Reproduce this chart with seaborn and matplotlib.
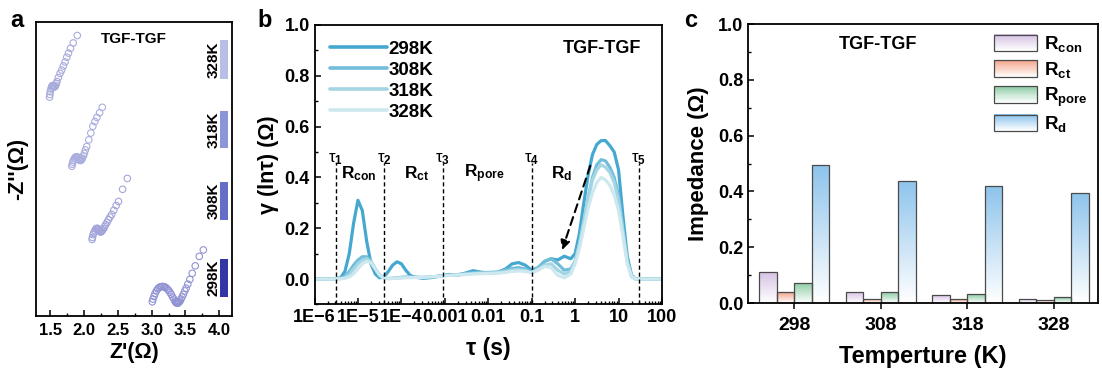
import numpy as np
import pandas as pd
import matplotlib
matplotlib.use("Agg")
import matplotlib.pyplot as plt
import matplotlib.colors as mcolors
import seaborn as sns
from matplotlib.patches import Rectangle
from matplotlib.legend_handler import HandlerBase
from matplotlib.lines import Line2D
from matplotlib.ticker import MultipleLocator, LogLocator, NullFormatter

# ---------------- data: panel a (Nyquist, stacked) ----------------
temps = ["298K", "308K", "318K", "328K"]
z_re_298 = [3.01, 3.02, 3.035, 3.05, 3.07, 3.09, 3.11, 3.13, 3.15, 3.17, 3.19, 3.21, 3.23, 3.25,
            3.27, 3.29, 3.31, 3.33, 3.345, 3.355, 3.365, 3.375, 3.385, 3.395, 3.405, 3.42, 3.435,
            3.45, 3.47, 3.49, 3.51, 3.535, 3.565, 3.60, 3.645, 3.705, 3.765]
z_im_298 = [0.21, 0.25, 0.29, 0.33, 0.37, 0.40, 0.42, 0.43, 0.435, 0.435, 0.43, 0.42, 0.40, 0.38,
            0.35, 0.32, 0.28, 0.25, 0.22, 0.205, 0.195, 0.19, 0.19, 0.195, 0.205, 0.22, 0.25,
            0.28, 0.32, 0.37, 0.41, 0.47, 0.54, 0.63, 0.74, 0.88, 0.975]
z_re_308 = [2.12, 2.125, 2.135, 2.145, 2.16, 2.175, 2.19, 2.205, 2.215, 2.225, 2.235, 2.245, 2.255,
            2.265, 2.275, 2.29, 2.305, 2.32, 2.34, 2.36, 2.385, 2.41, 2.44, 2.475, 2.51, 2.57, 2.64]
z_im_308 = [1.13, 1.16, 1.20, 1.23, 1.26, 1.285, 1.295, 1.29, 1.275, 1.26, 1.245, 1.24, 1.245,
            1.255, 1.27, 1.29, 1.32, 1.35, 1.38, 1.42, 1.46, 1.50, 1.56, 1.63, 1.69, 1.87, 2.03]
z_re_318 = [1.82, 1.825, 1.835, 1.845, 1.86, 1.875, 1.89, 1.905, 1.915, 1.925, 1.935, 1.945, 1.955,
            1.965, 1.975, 1.99, 2.005, 2.02, 2.04, 2.07, 2.10, 2.13, 2.16, 2.19, 2.23, 2.27]
z_im_318 = [2.21, 2.24, 2.27, 2.30, 2.33, 2.345, 2.35, 2.345, 2.33, 2.315, 2.30, 2.295, 2.30,
            2.31, 2.33, 2.36, 2.40, 2.45, 2.50, 2.60, 2.70, 2.80, 2.87, 2.93, 3.00, 3.08]
z_re_328 = [1.49, 1.495, 1.50, 1.51, 1.52, 1.53, 1.54, 1.55, 1.56, 1.57, 1.58, 1.59, 1.60, 1.62,
            1.645, 1.67, 1.695, 1.72, 1.745, 1.77, 1.80, 1.84, 1.90]
z_im_328 = [3.23, 3.27, 3.31, 3.35, 3.38, 3.40, 3.40, 3.39, 3.38, 3.385, 3.40, 3.43, 3.46, 3.52,
            3.58, 3.63, 3.69, 3.75, 3.82, 3.88, 3.95, 4.03, 4.14]
key_bottom = [0.285, 1.42, 2.48, 3.50]
key_top = [0.846, 1.98, 3.03, 4.07]
za_xticks = [1.5, 2.0, 2.5, 3.0, 3.5, 4.0]

# ---------------- data: panel b (DRT) ----------------
log_tau = [-6.0, -5.6, -5.4, -5.3, -5.2, -5.1, -5.0, -4.9, -4.8, -4.7, -4.6, -4.5, -4.4, -4.3, -4.2,
           -4.1, -4.0, -3.9, -3.8, -3.7, -3.5, -3.3, -3.1, -2.9, -2.7, -2.5, -2.35, -2.2, -2.0,
           -1.8, -1.6, -1.45, -1.3, -1.15, -1.0, -0.85, -0.7, -0.55, -0.4, -0.25, -0.1, 0.0, 0.1,
           0.2, 0.3, 0.4, 0.5, 0.6, 0.7, 0.8, 0.9, 1.0, 1.1, 1.2, 1.3, 1.4, 2.0]
g298 = [0, 0, 0.005, 0.03, 0.10, 0.22, 0.31, 0.27, 0.15, 0.06, 0.02, 0.005, 0.01, 0.03, 0.055,
        0.068, 0.06, 0.035, 0.015, 0.008, 0.003, 0.006, 0.012, 0.018, 0.015, 0.025, 0.033, 0.028,
        0.022, 0.025, 0.04, 0.06, 0.065, 0.055, 0.035, 0.045, 0.07, 0.08, 0.075, 0.09, 0.08, 0.10,
        0.18, 0.30, 0.41, 0.49, 0.53, 0.545, 0.545, 0.525, 0.50, 0.43, 0.25, 0.09, 0.015, 0, 0]
g308 = [0, 0, 0.003, 0.01, 0.03, 0.055, 0.075, 0.088, 0.088, 0.07, 0.04, 0.015, 0.004, 0.002, 0.003,
        0.005, 0.007, 0.008, 0.008, 0.007, 0.006, 0.008, 0.012, 0.016, 0.018, 0.022, 0.025, 0.026,
        0.026, 0.028, 0.035, 0.042, 0.045, 0.04, 0.028, 0.045, 0.07, 0.08, 0.06, 0.035, 0.04, 0.07,
        0.13, 0.22, 0.32, 0.40, 0.45, 0.47, 0.465, 0.44, 0.40, 0.33, 0.20, 0.075, 0.01, 0, 0]
g318 = [0, 0, 0.002, 0.006, 0.018, 0.04, 0.06, 0.075, 0.08, 0.068, 0.04, 0.015, 0.004, 0.002, 0.003,
        0.004, 0.006, 0.007, 0.007, 0.007, 0.007, 0.009, 0.012, 0.015, 0.017, 0.02, 0.022, 0.023,
        0.024, 0.026, 0.03, 0.035, 0.037, 0.034, 0.026, 0.04, 0.055, 0.06, 0.035, 0.02, 0.03, 0.07,
        0.14, 0.23, 0.32, 0.39, 0.43, 0.45, 0.44, 0.42, 0.38, 0.31, 0.19, 0.07, 0.01, 0, 0]
g328 = [0, 0, 0.001, 0.003, 0.008, 0.02, 0.04, 0.06, 0.07, 0.065, 0.04, 0.015, 0.004, 0.002, 0.002,
        0.003, 0.004, 0.005, 0.006, 0.006, 0.007, 0.009, 0.011, 0.014, 0.016, 0.018, 0.02, 0.021,
        0.022, 0.023, 0.026, 0.03, 0.032, 0.03, 0.024, 0.035, 0.05, 0.045, 0.015, 0.005, 0.02, 0.06,
        0.12, 0.20, 0.28, 0.34, 0.38, 0.40, 0.39, 0.37, 0.33, 0.27, 0.17, 0.06, 0.01, 0, 0]
tau_bounds = [3.1e-6, 4.0e-5, 9.0e-4, 0.1, 29.0]
tau_bound_labels = ["τ$_1$", "τ$_2$", "τ$_3$", "τ$_4$", "τ$_5$"]
region_labels = [r"$\mathbf{R_{con}}$", r"$\mathbf{R_{ct}}$", r"$\mathbf{R_{pore}}$", r"$\mathbf{R_{d}}$"]
region_pos = [1.07e-5, 2.2e-4, 8.3e-3, 0.48]
tau_tick_labels = ["1E\u22126", "1E\u22125", "1E\u22124", "0.001", "0.01", "0.1", "1", "10", "100"]

# ---------------- data: panel c (bars) ----------------
bar_temps = ["298", "308", "318", "328"]
components = ["R_con", "R_ct", "R_pore", "R_d"]
comp_labels = [r"$\mathbf{R_{con}}$", r"$\mathbf{R_{ct}}$", r"$\mathbf{R_{pore}}$", r"$\mathbf{R_{d}}$"]
r_con = [0.110, 0.038, 0.027, 0.015]
r_ct = [0.038, 0.015, 0.013, 0.012]
r_pore = [0.072, 0.038, 0.031, 0.021]
r_d = [0.493, 0.438, 0.418, 0.393]

# ---------------- style ----------------
sns.set_theme(style="ticks")
plt.rcParams["font.family"] = ["Liberation Sans", "DejaVu Sans"]
plt.rcParams["font.weight"] = "bold"
plt.rcParams["axes.labelweight"] = "bold"
plt.rcParams["mathtext.fontset"] = "custom"
plt.rcParams["mathtext.rm"] = "Liberation Sans"
plt.rcParams["mathtext.bf"] = "Liberation Sans:bold"
plt.rcParams["mathtext.it"] = "Liberation Sans:italic"
plt.rcParams["axes.linewidth"] = 1.3
plt.rcParams["axes.edgecolor"] = "black"
for k in ["text.color", "axes.labelcolor", "xtick.color", "ytick.color"]:
    plt.rcParams[k] = "black"

TICK_FS = 13
LABEL_FS = 15.5

fig = plt.figure(figsize=(11.02, 3.76), dpi=100)
axa = fig.add_axes([0.0327, 0.1596, 0.1779, 0.782])
axb = fig.add_axes([0.2854, 0.1902, 0.3153, 0.7434])
axc = fig.add_axes([0.6788, 0.1941, 0.3176, 0.742])

# ================= panel a =================
key_colors = ["#3237A5", "#646EC8", "#8C96D7", "#B9BEE6"]
pt_colors = ["#9193D4", "#A3A5DA", "#ABADDD", "#A9ABDC"]
series_a = [(z_re_298, z_im_298), (z_re_308, z_im_308), (z_re_318, z_im_318), (z_re_328, z_im_328)]
for (xr, yi), t, pc in zip(series_a, temps, pt_colors):
    df = pd.DataFrame({"Zre": xr, "Zim": yi})
    n0 = len(axa.collections)
    sns.scatterplot(data=df, x="Zre", y="Zim", ax=axa, marker="o", s=22, legend=False)
    coll = axa.collections[n0]
    coll.set_facecolor("none")
    coll.set_edgecolor(pc)
    coll.set_linewidth(0.8)

for b, tp, c, t in zip(key_bottom, key_top, key_colors, temps):
    axa.bar([4.07], [tp - b], bottom=[b], width=0.115, color=c, edgecolor="none")
    axa.text(3.915, (b + tp) / 2, t, rotation=90, ha="center", va="center",
             fontsize=11, fontweight="bold")
axa.set_xlim(1.29, 4.19)
axa.set_ylim(0, 4.34)
axa.set_xticks(za_xticks)
axa.set_xticklabels([f"{v:.1f}" for v in za_xticks], fontsize=12, fontweight="bold")
axa.xaxis.set_minor_locator(MultipleLocator(0.25))
axa.set_yticks([])
axa.tick_params(axis="x", which="major", direction="in", length=4, width=1.1, pad=5)
axa.tick_params(axis="x", which="minor", direction="in", length=2.5, width=1.0)
axa.set_xlabel("Z'(Ω)", fontsize=LABEL_FS, fontweight="bold", labelpad=3)
axa.set_ylabel("-Z''(Ω)", fontsize=LABEL_FS, fontweight="bold", labelpad=6)
axa.text(0.5, 0.965, "TGF-TGF", transform=axa.transAxes, ha="center", va="top",
         fontsize=11, fontweight="bold")

# ================= panel b =================
drt_colors = ["#45A8D0", "#72BEDA", "#A3D5E3", "#CDE8EF"]
frames = []
for t, g in zip(temps, [g298, g308, g318, g328]):
    frames.append(pd.DataFrame({"tau": 10.0 ** np.array(log_tau), "gamma": g, "T": t}))
drt = pd.concat(frames, ignore_index=True)
sns.lineplot(data=drt, x="tau", y="gamma", hue="T", hue_order=temps,
             palette=dict(zip(temps, drt_colors)), linewidth=2.3, ax=axb, legend=False,
             estimator=None, sort=True)
axb.set_xscale("log")
axb.set_xlim(1e-6, 100)
axb.set_ylim(-0.1, 1.0)
axb.set_xticks(10.0 ** np.arange(-6, 3))
axb.set_xticklabels(tau_tick_labels, fontsize=TICK_FS, fontweight="bold")
axb.xaxis.set_minor_locator(LogLocator(base=10, subs=np.arange(2, 10), numticks=20))
axb.xaxis.set_minor_formatter(NullFormatter())
axb.set_yticks([0.0, 0.2, 0.4, 0.6, 0.8, 1.0])
axb.set_yticklabels(["0.0", "0.2", "0.4", "0.6", "0.8", "1.0"], fontsize=TICK_FS, fontweight="bold")
axb.yaxis.set_minor_locator(MultipleLocator(0.1))
axb.tick_params(which="major", direction="in", length=4, width=1.1)
axb.tick_params(which="minor", direction="in", length=2.5, width=1.0)
axb.set_xlabel("τ (s)", fontsize=LABEL_FS + 1, fontweight="bold", labelpad=8)
axb.set_ylabel("γ (lnτ) (Ω)", fontsize=LABEL_FS, fontweight="bold", labelpad=4)

for xb, lab in zip(tau_bounds, tau_bound_labels):
    axb.plot([xb, xb], [-0.1, 0.455], ls=(0, (3, 2)), color="black", lw=1.0)
    axb.text(xb, 0.44, lab, ha="center", va="bottom", fontsize=12, fontweight="normal")
for xp, lab in zip(region_pos, region_labels):
    axb.text(xp, 0.415, lab, ha="center", va="center", fontsize=12.5)
axb.annotate("", xy=(10 ** -0.30, 0.114), xytext=(10 ** 0.35, 0.446),
             arrowprops=dict(arrowstyle="-|>", linestyle=(0, (4, 2.5)), lw=1.5, color="black",
                             mutation_scale=14, shrinkA=0, shrinkB=0))
handles_b = [Line2D([0], [0], color=c, lw=2.6) for c in drt_colors]
axb.legend(handles_b, temps, loc="upper left", bbox_to_anchor=(0.0, 1.0), frameon=False,
           handlelength=3.0, handletextpad=0.1, labelspacing=0.2, borderaxespad=0.45,
           prop={"size": 13.5, "weight": "bold"})
axb.text(0.94, 0.915, "TGF-TGF", transform=axb.transAxes, ha="right", va="center",
         fontsize=13, fontweight="bold")

# ================= panel c =================
comp_colors = ["#D8C3E6", "#F4A489", "#8BCBA3", "#8EC4EC"]
bars = pd.DataFrame({
    "T": np.repeat(bar_temps, 4),
    "comp": components * 4,
    "val": np.ravel(np.column_stack([r_con, r_ct, r_pore, r_d])),
})
sns.barplot(data=bars, x="T", y="val", hue="comp", hue_order=components, order=bar_temps,
            palette=dict(zip(components, comp_colors)), width=0.81, gap=0, ax=axc,
            legend=False, edgecolor="#4a4a4a", linewidth=0.9, saturation=1)


def grad_array(color, n=64):
    rgb = np.array(mcolors.to_rgb(color))
    f = np.linspace(0.0, 1.0, n)[:, None]
    arr = (1 - f) * np.ones(3) + f * rgb
    return arr[:, None, :]


for cont, col in zip(axc.containers, comp_colors):
    for p in cont.patches:
        x0, y0 = p.get_x(), p.get_y()
        w, h = p.get_width(), p.get_height()
        im = axc.imshow(grad_array(col), extent=[x0, x0 + w, y0, y0 + h], origin="lower",
                        aspect="auto", zorder=p.get_zorder() - 0.1, interpolation="bilinear")
        im.set_clip_path(p)
        p.set_facecolor("none")

axc.set_xlim(-0.535, 3.51)
axc.set_ylim(0, 1.0)
axc.set_aspect("auto")
axc.set_yticks([0.0, 0.2, 0.4, 0.6, 0.8, 1.0])
axc.set_yticklabels(["0.0", "0.2", "0.4", "0.6", "0.8", "1.0"], fontsize=TICK_FS, fontweight="bold")
axc.yaxis.set_minor_locator(MultipleLocator(0.1))
axc.set_xticks(range(4))
axc.set_xticklabels(bar_temps, fontsize=TICK_FS + 1, fontweight="bold")
axc.tick_params(axis="y", which="major", direction="in", length=4, width=1.1)
axc.tick_params(axis="y", which="minor", direction="in", length=2.5, width=1.0)
axc.tick_params(axis="x", which="major", direction="out", length=4, width=1.1, pad=6)
axc.set_xlabel("Temperture (K)", fontsize=LABEL_FS + 1.5, fontweight="bold", labelpad=8)
axc.set_ylabel("Impedance (Ω)", fontsize=LABEL_FS + 0.5, fontweight="bold", labelpad=6)
axc.text(0.37, 0.925, "TGF-TGF", transform=axc.transAxes, ha="center", va="center",
         fontsize=13, fontweight="bold")
for s in axc.spines.values():
    s.set_visible(True)


class GradHandler(HandlerBase):
    def __init__(self, color):
        super().__init__()
        self.color = color

    def create_artists(self, legend, orig_handle, xdescent, ydescent, width, height,
                       fontsize, trans):
        arts = []
        n = 16
        rgb = np.array(mcolors.to_rgb(self.color))
        for i in range(n):
            f = i / (n - 1)
            c = (1 - f) * np.ones(3) + f * rgb
            arts.append(Rectangle((-xdescent, -ydescent + height * i / n), width, height / n + 0.3,
                                  facecolor=c, edgecolor="none", transform=trans))
        arts.append(Rectangle((-xdescent, -ydescent), width, height, facecolor="none",
                              edgecolor="#4a4a4a", lw=0.9, transform=trans))
        return arts


proxies = [Rectangle((0, 0), 1, 1) for _ in comp_colors]
axc.legend(proxies, comp_labels, loc="upper right", bbox_to_anchor=(1.0, 1.0), frameon=False,
           handler_map={p: GradHandler(c) for p, c in zip(proxies, comp_colors)},
           handlelength=2.3, handleheight=1.0, handletextpad=0.35, labelspacing=0.3,
           borderaxespad=0.15, prop={"size": 13.5})

# panel letters
fig.text(0.009, 0.975, "a", fontsize=17, fontweight="bold", va="top", ha="left")
fig.text(0.234, 0.975, "b", fontsize=17, fontweight="bold", va="top", ha="left")
fig.text(0.621, 0.975, "c", fontsize=17, fontweight="bold", va="top", ha="left")

fig.savefig("out.png", dpi=100)
